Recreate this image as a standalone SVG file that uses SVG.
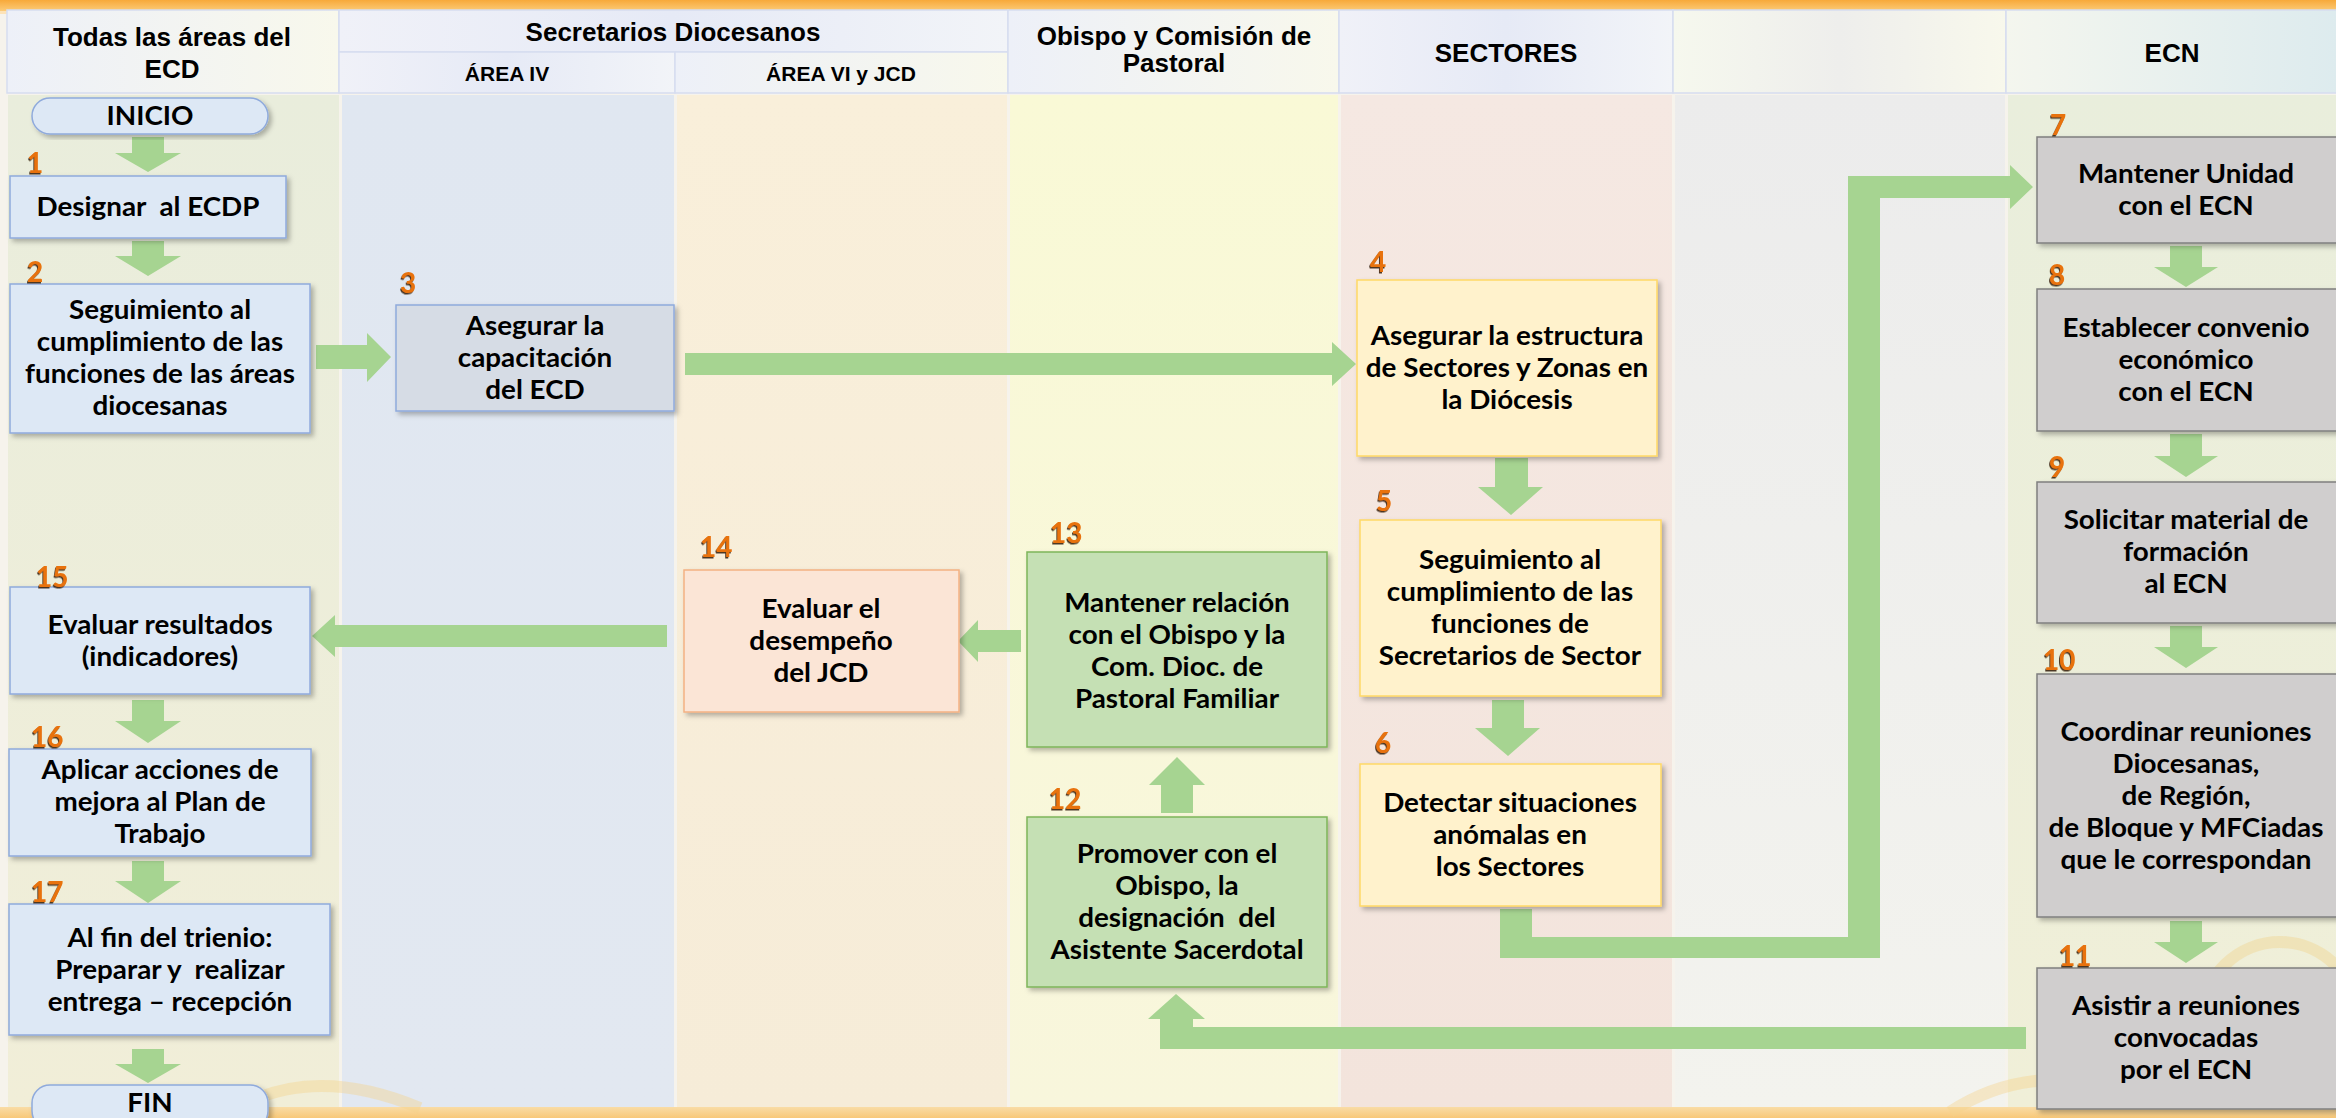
<svg xmlns="http://www.w3.org/2000/svg" width="2336" height="1118" viewBox="0 0 2336 1118">
<defs>
<style>
.hd{font-family:"Liberation Sans",Arial,sans-serif;font-weight:bold;font-size:26px;fill:#000;text-anchor:middle}
.sh{font-size:21px}
.t{font-family:Lato,"Open Sans",sans-serif;font-weight:bold;font-size:26px;fill:#000;text-anchor:middle;transform:scaleX(1.07);transform-box:fill-box;transform-origin:center}
.num{font-family:Lato,"Open Sans",sans-serif;font-weight:bold;font-size:28px;fill:#E8720C;filter:url(#ns)}
.blue{fill:#DDE8F5;stroke:#8FAADC;stroke-width:1.5;filter:url(#bs)}
.steel{fill:#D6DCE5;stroke:#8FAADC;stroke-width:1.5;filter:url(#bs)}
.yel{fill:#FFF2CC;stroke:#FFD966;stroke-width:1.5;filter:url(#bs)}
.gry{fill:#D0CECE;stroke:#7F7F7F;stroke-width:1.5;filter:url(#bs)}
.grn{fill:#C5E0B4;stroke:#7DB55A;stroke-width:1.5;filter:url(#bs)}
.pch{fill:#FBE5D6;stroke:#F4B183;stroke-width:1.5;filter:url(#bs)}
.arr{fill:#A6D491}
.hc{stroke:#D6DDEF;stroke-width:1.5}
</style>
<filter id="bs" x="-10%" y="-10%" width="125%" height="125%"><feDropShadow dx="3" dy="3" stdDeviation="2.5" flood-color="#000" flood-opacity="0.28"/></filter>
<filter id="ns" x="-20%" y="-20%" width="150%" height="150%"><feDropShadow dx="-1" dy="1.5" stdDeviation="0.3" flood-color="#3A2410" flood-opacity="0.9"/></filter>
<linearGradient id="topbar" x1="0" y1="0" x2="0" y2="1"><stop offset="0" stop-color="#F7A93A"/><stop offset="1" stop-color="#FCCB78"/></linearGradient>
<linearGradient id="botbar" x1="0" y1="0" x2="0" y2="1"><stop offset="0" stop-color="#F9DCA6"/><stop offset="1" stop-color="#F8C878"/></linearGradient>
<linearGradient id="hg1" x1="0" y1="0" x2="1" y2="0"><stop offset="0" stop-color="#EDF0F8"/><stop offset="1" stop-color="#F8F8EC"/></linearGradient>
<linearGradient id="hg2" x1="0" y1="0" x2="1" y2="0"><stop offset="0" stop-color="#F0F1F8"/><stop offset="0.5" stop-color="#E6EAF6"/><stop offset="1" stop-color="#F2F4F8"/></linearGradient>
<linearGradient id="hg3" x1="0" y1="0" x2="1" y2="0"><stop offset="0" stop-color="#F6F8EE"/><stop offset="0.5" stop-color="#EEEEEC"/><stop offset="1" stop-color="#F8F8EC"/></linearGradient>
<linearGradient id="hg4" x1="0" y1="0" x2="1" y2="0"><stop offset="0" stop-color="#F4F6EE"/><stop offset="1" stop-color="#DDEBEE"/></linearGradient>
<linearGradient id="c1" x1="0" y1="0" x2="0" y2="1"><stop offset="0" stop-color="#E9EDDC"/><stop offset="1" stop-color="#F1EED8"/></linearGradient>
<linearGradient id="c2" x1="0" y1="0" x2="0" y2="1"><stop offset="0" stop-color="#E0E7F1"/><stop offset="1" stop-color="#E2E8F1"/></linearGradient>
<linearGradient id="c3" x1="0" y1="0" x2="0" y2="1"><stop offset="0" stop-color="#F9EFDA"/><stop offset="1" stop-color="#F6ECD8"/></linearGradient>
<linearGradient id="c4" x1="0" y1="0" x2="0" y2="1"><stop offset="0" stop-color="#F9F9D6"/><stop offset="1" stop-color="#F8F6DC"/></linearGradient>
<linearGradient id="c5" x1="0" y1="0" x2="0" y2="1"><stop offset="0" stop-color="#F5E8E2"/><stop offset="1" stop-color="#F3E4DC"/></linearGradient>
<linearGradient id="c6" x1="0" y1="0" x2="0" y2="1"><stop offset="0" stop-color="#ECECEC"/><stop offset="1" stop-color="#F3F3EE"/></linearGradient>
<linearGradient id="c7" x1="0" y1="0" x2="0" y2="1"><stop offset="0" stop-color="#E9EEDC"/><stop offset="1" stop-color="#F0EFD8"/></linearGradient>
</defs>

<g id="background">
<rect x="0" y="0" width="2336" height="1118" fill="#F6F3EC"/>
<rect x="0" y="0" width="2336" height="11" fill="url(#topbar)"/>
<rect x="0" y="11" width="2336" height="3" fill="#FDE3B8"/>
<rect x="0" y="1107" width="2336" height="11" fill="url(#botbar)"/>
<rect x="8" y="95" width="331" height="1012" fill="url(#c1)"/>
<rect x="342" y="95" width="332" height="1012" fill="url(#c2)"/>
<rect x="677" y="95" width="330" height="1012" fill="url(#c3)"/>
<rect x="1010" y="95" width="328" height="1012" fill="url(#c4)"/>
<rect x="1341" y="95" width="331" height="1012" fill="url(#c5)"/>
<rect x="1675" y="95" width="330" height="1012" fill="url(#c6)"/>
<rect x="2008" y="95" width="328" height="1012" fill="url(#c7)"/>
<path d="M230 1112 Q 310 1062 420 1108" fill="none" stroke="#F5D38A" stroke-width="12" opacity="0.4"/>
<path d="M1950 1112 Q 2030 1060 2130 1092" fill="none" stroke="#F5D38A" stroke-width="12" opacity="0.4"/>
<circle cx="2280" cy="1020" r="78" fill="none" stroke="#F2CE7E" stroke-width="12" opacity="0.35"/>
<rect x="7" y="10" width="332" height="83" fill="url(#hg1)" class="hc"/>
<rect x="339" y="10" width="669" height="42" fill="url(#hg2)" class="hc"/>
<rect x="339" y="52" width="336" height="41" fill="url(#hg2)" class="hc"/>
<rect x="675" y="52" width="333" height="41" fill="url(#hg1)" class="hc"/>
<rect x="1008" y="10" width="331" height="83" fill="url(#hg1)" class="hc"/>
<rect x="1339" y="10" width="334" height="83" fill="url(#hg2)" class="hc"/>
<rect x="1673" y="10" width="333" height="83" fill="url(#hg3)" class="hc"/>
<rect x="2006" y="10" width="332" height="83" fill="url(#hg4)" class="hc"/>
<text class="hd" x="172" y="46">Todas las áreas del</text>
<text class="hd" x="172" y="78">ECD</text>
<text class="hd" x="673" y="41">Secretarios Diocesanos</text>
<text class="hd sh" x="507" y="81">ÁREA IV</text>
<text class="hd sh" x="841" y="81">ÁREA VI y JCD</text>
<text class="hd" x="1174" y="45">Obispo y Comisión de</text>
<text class="hd" x="1174" y="72">Pastoral</text>
<text class="hd" x="1506" y="62">SECTORES</text>
<text class="hd" x="2172" y="62">ECN</text>
</g>

<g id="connectors">
<path class="arr" d="M132,137 H164 V153 H181 L148,172 L115,153 H132 Z"/>
<path class="arr" d="M132,241 H164 V256 H181 L148,276 L115,256 H132 Z"/>
<path class="arr" d="M316,345 H367 V333 L391,357 L367,382 V369 H316 Z"/>
<path class="arr" d="M685,353 H1332 V342 L1356,364 L1332,386 V375 H685 Z"/>
<path class="arr" d="M1495,458 H1528 V487 H1543 L1511,515 L1478,487 H1495 Z"/>
<path class="arr" d="M1492,700 H1524 V728 H1540 L1508,756 L1475,728 H1492 Z"/>
<path class="arr" d="M1500,909 H1532 V937 H1848 V176 H2010 V165 L2033,187 L2010,209 V198 H1880 V958 H1500 Z"/>
<path class="arr" d="M2170,246 H2202 V267 H2218 L2186,287 L2154,267 H2170 Z"/>
<path class="arr" d="M2170,434 H2202 V456 H2218 L2186,477 L2154,456 H2170 Z"/>
<path class="arr" d="M2170,626 H2202 V647 H2218 L2186,668 L2154,647 H2170 Z"/>
<path class="arr" d="M2170,921 H2202 V942 H2218 L2186,963 L2154,942 H2170 Z"/>
<path class="arr" d="M2026,1027 V1049 H1160 V1019 H1148 L1176,994 L1205,1019 H1193 V1027 Z"/>
<path class="arr" d="M1161,813 V785 H1149 L1177,757 L1205,785 H1193 V813 Z"/>
<path class="arr" d="M1021,630 H978 V620 L958,641 L978,662 V652 H1021 Z"/>
<path class="arr" d="M667,625 H335 V615 L312,636 L335,657 V647 H667 Z"/>
<path class="arr" d="M132,700 H164 V721 H181 L148,743 L115,721 H132 Z"/>
<path class="arr" d="M132,861 H164 V881 H181 L148,903 L115,881 H132 Z"/>
<path class="arr" d="M132,1049 H164 V1064 H181 L148,1083 L115,1064 H132 Z"/>
</g>

<g id="inicio"><rect class="blue" x="32" y="98" width="236" height="36" rx="18"/><text class="t" x="150" y="125">INICIO</text></g>

<g id="n1"><rect class="blue" x="10" y="176" width="276" height="62"/><text class="num" x="27" y="173">1</text><text class="t" x="148" y="216">Designar&#160; al ECDP</text></g>

<g id="n2"><rect class="blue" x="10" y="284" width="300" height="149"/><text class="num" x="27" y="282">2</text>
<text class="t" x="160" y="319">Seguimiento al</text><text class="t" x="160" y="351">cumplimiento de las</text><text class="t" x="160" y="383">funciones de las áreas</text><text class="t" x="160" y="415">diocesanas</text></g>

<g id="n3"><rect class="steel" x="396" y="305" width="278" height="106"/><text class="num" x="400" y="293">3</text>
<text class="t" x="535" y="335">Asegurar la</text><text class="t" x="535" y="367">capacitación</text><text class="t" x="535" y="399">del ECD</text></g>

<g id="n4"><rect class="yel" x="1357" y="280" width="300" height="176"/><text class="num" x="1370" y="272">4</text>
<text class="t" x="1507" y="345">Asegurar la estructura</text><text class="t" x="1507" y="377">de Sectores y Zonas en</text><text class="t" x="1507" y="409">la Diócesis</text></g>

<g id="n5"><rect class="yel" x="1360" y="520" width="301" height="176"/><text class="num" x="1376" y="511">5</text>
<text class="t" x="1510" y="569">Seguimiento al</text><text class="t" x="1510" y="601">cumplimiento de las</text><text class="t" x="1510" y="633">funciones de</text><text class="t" x="1510" y="665">Secretarios de Sector</text></g>

<g id="n6"><rect class="yel" x="1360" y="764" width="301" height="142"/><text class="num" x="1375" y="753">6</text>
<text class="t" x="1510" y="812">Detectar situaciones</text><text class="t" x="1510" y="844">anómalas en</text><text class="t" x="1510" y="876">los Sectores</text></g>

<g id="n7"><rect class="gry" x="2037" y="137" width="310" height="106"/><text class="num" x="2050" y="135">7</text>
<text class="t" x="2186" y="183">Mantener Unidad</text><text class="t" x="2186" y="215">con el ECN</text></g>

<g id="n8"><rect class="gry" x="2037" y="289" width="310" height="142"/><text class="num" x="2049" y="285">8</text>
<text class="t" x="2186" y="337">Establecer convenio</text><text class="t" x="2186" y="369">económico</text><text class="t" x="2186" y="401">con el ECN</text></g>

<g id="n9"><rect class="gry" x="2037" y="482" width="310" height="141"/><text class="num" x="2049" y="477">9</text>
<text class="t" x="2186" y="529">Solicitar material de</text><text class="t" x="2186" y="561">formación</text><text class="t" x="2186" y="593">al ECN</text></g>

<g id="n10"><rect class="gry" x="2037" y="674" width="310" height="243"/><text class="num" x="2043" y="670">10</text>
<text class="t" x="2186" y="741">Coordinar reuniones</text><text class="t" x="2186" y="773">Diocesanas,</text><text class="t" x="2186" y="805">de Región,</text><text class="t" x="2186" y="837">de Bloque y MFCiadas</text><text class="t" x="2186" y="869">que le correspondan</text></g>

<g id="n11"><rect class="gry" x="2037" y="968" width="310" height="141"/><text class="num" x="2059" y="966">11</text>
<text class="t" x="2186" y="1015">Asistir a reuniones</text><text class="t" x="2186" y="1047">convocadas</text><text class="t" x="2186" y="1079">por el ECN</text></g>

<g id="n12"><rect class="grn" x="1027" y="817" width="300" height="170"/><text class="num" x="1049" y="809">12</text>
<text class="t" x="1177" y="863">Promover con el</text><text class="t" x="1177" y="895">Obispo, la</text><text class="t" x="1177" y="927">designación&#160; del</text><text class="t" x="1177" y="959">Asistente Sacerdotal</text></g>

<g id="n13"><rect class="grn" x="1027" y="552" width="300" height="195"/><text class="num" x="1050" y="543">13</text>
<text class="t" x="1177" y="612">Mantener relación</text><text class="t" x="1177" y="644">con el Obispo y la</text><text class="t" x="1177" y="676">Com. Dioc. de</text><text class="t" x="1177" y="708">Pastoral Familiar</text></g>

<g id="n14"><rect class="pch" x="684" y="570" width="275" height="142"/><text class="num" x="700" y="557">14</text>
<text class="t" x="821" y="618">Evaluar el</text><text class="t" x="821" y="650">desempeño</text><text class="t" x="821" y="682">del JCD</text></g>

<g id="n15"><rect class="blue" x="10" y="587" width="300" height="107"/><text class="num" x="36" y="587">15</text>
<text class="t" x="160" y="634">Evaluar resultados</text><text class="t" x="160" y="666">(indicadores)</text></g>

<g id="n16"><rect class="blue" x="9" y="749" width="302" height="107"/><text class="num" x="31" y="747">16</text>
<text class="t" x="160" y="779">Aplicar acciones de</text><text class="t" x="160" y="811">mejora al Plan de</text><text class="t" x="160" y="843">Trabajo</text></g>

<g id="n17"><rect class="blue" x="9" y="904" width="321" height="131"/><text class="num" x="31" y="902">17</text>
<text class="t" x="170" y="947">Al fin del trienio:</text><text class="t" x="170" y="979">Preparar y&#160; realizar</text><text class="t" x="170" y="1011">entrega – recepción</text></g>

<g id="fin"><rect class="blue" x="32" y="1085" width="236" height="44" rx="18"/><text class="t" x="150" y="1112">FIN</text></g>
</svg>
